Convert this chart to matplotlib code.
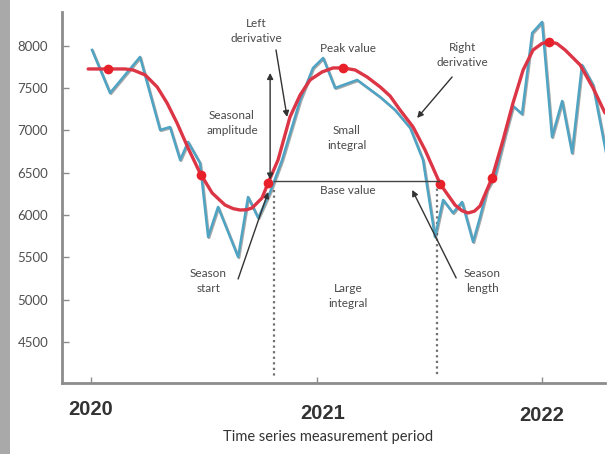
import matplotlib
matplotlib.use("Agg")
import matplotlib.pyplot as plt
import matplotlib.patheffects as pe
from matplotlib.patches import Rectangle
from matplotlib.transforms import ScaledTranslation

# ---- data ----
obs_t = [2020.004, 2020.084, 2020.217, 2020.306, 2020.350, 2020.395, 2020.430, 2020.483,
         2020.519, 2020.563, 2020.652, 2020.696, 2020.741, 2020.794, 2020.847, 2020.927,
         2020.984, 2021.029, 2021.082, 2021.180, 2021.282, 2021.348, 2021.415, 2021.472,
         2021.525, 2021.561, 2021.605, 2021.645, 2021.694, 2021.725, 2021.756, 2021.792,
         2021.836, 2021.871, 2021.911, 2021.956, 2022.000, 2022.044, 2022.089, 2022.133,
         2022.177, 2022.226, 2022.284]
obs_v = [7953, 7444, 7870, 7006, 7041, 6651, 6864, 6615,
         5740, 6095, 5503, 6213, 5965, 6272, 6651, 7361,
         7740, 7858, 7503, 7598, 7396, 7243, 7030, 6651,
         5740, 6178, 6024, 6154, 5681, 5976, 6296, 6473,
         6947, 7290, 7195, 8154, 8284, 6923, 7349, 6734,
         7775, 7538, 6734]

fit_t = [2019.987, 2020.075, 2020.150, 2020.186, 2020.240, 2020.293, 2020.337, 2020.381, 2020.430,
         2020.483, 2020.537, 2020.594, 2020.630, 2020.661, 2020.690, 2020.714, 2020.758, 2020.785,
         2020.829, 2020.882, 2020.927, 2020.971, 2021.024, 2021.073, 2021.118, 2021.171, 2021.224,
         2021.282, 2021.326, 2021.370, 2021.428, 2021.481, 2021.548, 2021.614, 2021.645, 2021.672,
         2021.700, 2021.725, 2021.778, 2021.827, 2021.871, 2021.916, 2021.960, 2022.000, 2022.031,
         2022.065, 2022.102, 2022.169, 2022.226, 2022.279]
fit_v = [7728, 7728, 7728, 7716, 7657, 7515, 7325, 7089, 6793,
         6497, 6260, 6118, 6075, 6059, 6062, 6083, 6201, 6379,
         6651, 7160, 7420, 7598, 7692, 7740, 7740, 7716, 7633,
         7515, 7408, 7243, 7041, 6769, 6367, 6118, 6050, 6024,
         6045, 6107, 6438, 6888, 7325, 7716, 7953, 8030, 8047,
         8030, 7953, 7775, 7503, 7207]

key_t = [2020.075, 2020.488, 2020.785, 2021.118, 2021.548, 2021.778, 2022.031]
key_v = [7728, 6473, 6379, 7740, 6367, 6438, 8047]

year_ticks = [2020, 2021, 2022]
year_labels = ["2020", "2021", "2022"]
y_ticks = [4500, 5000, 5500, 6000, 6500, 7000, 7500, 8000]

season_start = 2020.812
season_end = 2021.536
base_value = 6402
amp_low, amp_high = 6420, 7680

# ---- figure ----
fig = plt.figure(figsize=(6.08, 4.54), dpi=100)
fig.patches.append(Rectangle((0, 0), 10 / 608, 1, transform=fig.transFigure,
                             facecolor="#a9a9a9", edgecolor="none", zorder=0))
ax = fig.add_axes([62 / 608, 71 / 454, 543 / 608, 371 / 454])

ax.plot(obs_t, obs_v, color="#4fa3c3", lw=1.8, zorder=3,
        path_effects=[pe.SimpleLineShadow(offset=(0.7, -0.7), shadow_color="#404040", alpha=0.45),
                      pe.Normal()])
ax.plot(fit_t, fit_v, color="#dc3545", lw=2.4, zorder=4, solid_capstyle="round",
        solid_joinstyle="round")
ax.plot(key_t, key_v, "o", color="#e8202a", ms=7, zorder=5, mec="none")

txt = dict(color="#4a4a4a", fontsize=8.5, family="Lato", ha="center", va="center",
           linespacing=1.35)
arrow = dict(arrowstyle="-|>,head_length=0.35,head_width=0.18", color="#333333", lw=1,
             shrinkA=0, shrinkB=0)

# seasonal amplitude double arrow
ax.annotate("", xy=(2020.794, amp_high), xytext=(2020.794, amp_low),
            arrowprops=dict(arrowstyle="<|-|>,head_length=0.35,head_width=0.18",
                            color="#333333", lw=1, shrinkA=0, shrinkB=0), zorder=6)
# base value line
ax.plot([season_start, season_end + 0.005], [base_value, base_value], color="#444444", lw=1, zorder=6)
# dotted verticals
ax.plot([season_start, season_start], [6300, 4080], color="#707070", lw=1.6,
        linestyle=(0, (1, 1.5)), zorder=2)
ax.plot([season_end, season_end], [6380, 4080], color="#707070", lw=1.6,
        linestyle=(0, (1, 1.5)), zorder=2)

ax.text(2020.732, 8178, "Left\nderivative", **txt)
ax.annotate("", xy=(2020.869, 7160), xytext=(2020.820, 7953), arrowprops=arrow)
ax.text(2021.14, 7976, "Peak value", **txt)
ax.text(2020.625, 7089, "Seasonal\namplitude", **txt)
ax.text(2021.135, 6911, "Small\nintegral", **txt)
ax.text(2021.14, 6284, "Base value", **txt)
ax.text(2021.645, 7893, "Right\nderivative", **txt)
ax.annotate("", xy=(2021.446, 7148), xytext=(2021.601, 7633), arrowprops=arrow)
ax.text(2020.519, 5219, "Season\nstart", **txt)
ax.annotate("", xy=(2020.785, 6272), xytext=(2020.652, 5243), arrowprops=arrow)
ax.text(2021.734, 5219, "Season\nlength", **txt)
ax.annotate("", xy=(2021.424, 6296), xytext=(2021.619, 5255), arrowprops=arrow)
ax.text(2021.140, 5042, "Large\nintegral", **txt)

# axes styling
ax.set_xlim(2019.871, 2022.279)
ax.set_ylim(4012, 8402)
for s in ("top", "right"):
    ax.spines[s].set_visible(False)
for s in ("left", "bottom"):
    ax.spines[s].set_color("#8c8c8c")
    ax.spines[s].set_linewidth(2)
ax.set_yticks(y_ticks)
ax.set_yticklabels([str(v) for v in y_ticks], family="Lato", fontsize=9.5, color="#505050")
ax.tick_params(axis="y", direction="in", length=5, width=1, color="#8c8c8c", pad=10)
ax.set_xticks(year_ticks)
ax.set_xticklabels(year_labels, family="Liberation Sans", fontweight="bold", fontsize=14.5,
                   color="#333333")
ax.tick_params(axis="x", direction="in", length=4, width=1, color="#8c8c8c", pad=10)
offsets = [(0, 3), (6, 7), (0, 9)]  # pixels right / down
for lab, (dx, dy) in zip(ax.get_xticklabels(), offsets):
    lab.set_transform(lab.get_transform() + ScaledTranslation(dx / 100, -dy / 100, fig.dpi_scale_trans))

ax.set_xlabel("Time series measurement period", family="Lato", fontsize=10.5, color="#333333",
              va="center")
ax.xaxis.set_label_coords((328 - 62) / 543, (383 - 437) / 371)

fig.savefig("out.png", dpi=100)
